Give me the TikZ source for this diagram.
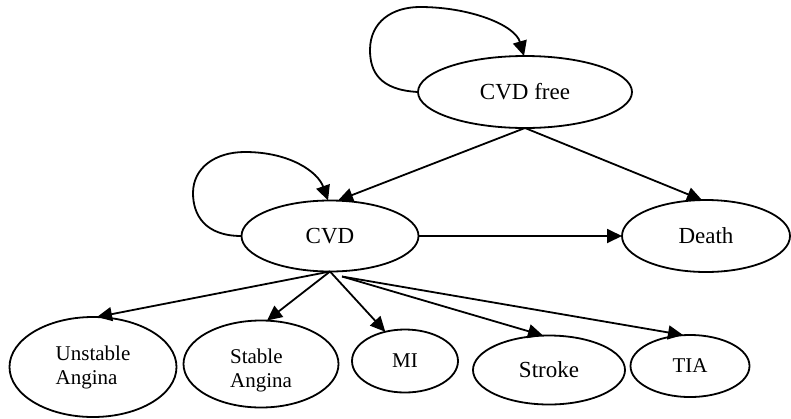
\documentclass[tikz,border=0pt]{standalone}
\usepackage{fontspec}
\setmainfont{Liberation Serif}
\usetikzlibrary{shapes.geometric,arrows.meta}
\begin{document}
\begin{tikzpicture}[x=1pt,y=-1pt,
  state/.style={draw,ellipse,line width=1.8pt,inner sep=0pt,outer sep=0pt},
  big/.style={font=\fontsize{23}{27}\selectfont},
  small/.style={font=\fontsize{21}{24}\selectfont},
  conn/.style={line width=1.8pt,-{Triangle[length=15pt,width=14pt]}}]
\useasboundingbox (0,0) rectangle (791,418);
\node[state,big,minimum width=214pt,minimum height=72pt] (cvdfree) at (525,92) {CVD free\hspace{16pt}};
\node[state,big,minimum width=177pt,minimum height=71pt] (cvd) at (330,236) {CVD\hspace{34pt}};
\node[state,big,minimum width=168pt,minimum height=72pt] (death) at (706,236) {Death\hspace{18pt}};
\node[state,small,align=left,minimum width=167pt,minimum height=100pt] (unstable) at (93,367) {Unstable\\Angina};
\node[state,small,minimum width=155pt,minimum height=87pt] (stable) at (261,364) {\raisebox{-7pt}[\height][\depth]{\begin{tabular}{@{}l@{}}Stable\\Angina\end{tabular}}\hspace{6pt}};
\node[state,small,minimum width=106pt,minimum height=63pt] (mi) at (405,361) {MI\hspace{10pt}};
\node[state,big,minimum width=152pt,minimum height=69pt] (stroke) at (549,370) {Stroke\hspace{4pt}};
\node[state,small,minimum width=119pt,minimum height=62pt] (tia) at (690,366) {TIA\hspace{6pt}};

\draw[conn] (cvdfree.west) .. controls (380,90) and (370,72) .. (370,50)
  .. controls (370,22) and (392,7) .. (420,7)
  .. controls (470,7) and (515,25) .. ([xshift=-1pt]cvdfree.north);
\draw[conn] (cvd.west) .. controls (205,236) and (193,215) .. (193,193)
  .. controls (193,168) and (215,152) .. (245,152)
  .. controls (290,152) and (318,172) .. ([xshift=-2pt]cvd.north);

\draw[conn] (cvdfree.south) -- ([xshift=8pt]cvd.north);
\draw[conn] (cvdfree.south) -- ([xshift=-4pt]death.north);
\draw[conn] (cvd.east) -- (death.west);
\draw[conn] (cvd.south) -- ([xshift=4pt]unstable.north);
\draw[conn] (cvd.south) -- ([xshift=6pt]stable.north);
\draw[conn] (cvd.south) -- (mi.124);
\draw[conn] ([xshift=12pt,yshift=-5pt]cvd.south) -- ([xshift=-6pt]stroke.north);
\draw[conn] ([xshift=12pt,yshift=-5pt]cvd.south) -- ([xshift=-7pt]tia.north);
\end{tikzpicture}
\end{document}
